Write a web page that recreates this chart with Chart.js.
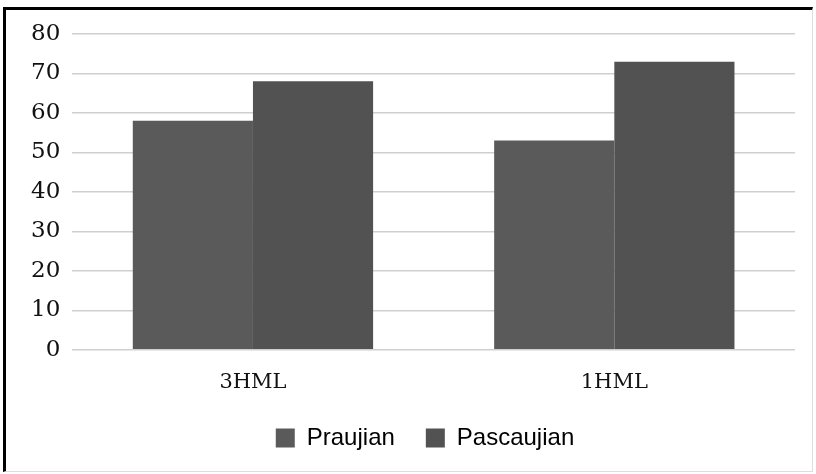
<!DOCTYPE html>
<html>
<head>
<meta charset="utf-8">
<script src="https://cdn.jsdelivr.net/npm/chart.js@4"></script>
<style>
html,body{margin:0;padding:0;background:#fff;}
#wrap{position:relative;width:816px;height:474px;}
canvas{position:absolute;left:0;top:0;}
#frame{position:absolute;left:3px;top:7px;width:806px;height:461px;border-left:3px solid #000;border-top:3px solid #000;border-right:1px solid #ddd;border-bottom:1px solid #ddd;pointer-events:none;}
</style>
</head>
<body>
<div id="wrap"><canvas id="c" width="816" height="474"></canvas><div id="frame"></div></div>
<script>
const categories = ["3HML", "1HML"];
const praujian = [58, 53];
const pascaujian = [68, 73];
const yTicks = [0, 10, 20, 30, 40, 50, 60, 70, 80];

const legendShift = {
  id: 'legendShift',
  afterLayout(chart) {
    if (chart.legend) { chart.legend.left += 18; chart.legend.right += 18; }
  }
};

new Chart(document.getElementById('c'), {
  type: 'bar',
  data: {
    labels: categories,
    datasets: [
      {label: 'Praujian', data: praujian, backgroundColor: '#5a5a5a', borderWidth: 0},
      {label: 'Pascaujian', data: pascaujian, backgroundColor: '#525252', borderWidth: 0}
    ]
  },
  plugins: [legendShift],
  options: {
    responsive: false,
    animation: false,
    devicePixelRatio: 1,
    layout: {padding: {left: 19, right: 21, top: 34, bottom: 14}},
    datasets: {bar: {categoryPercentage: 0.665, barPercentage: 1.0}},
    scales: {
      x: {
        grid: {display: false, drawTicks: false},
        border: {display: false},
        afterFit: (s) => { s.height -= 20; },
        ticks: {color: '#111', padding: 20, font: {family: "'DejaVu Serif'", size: 21}}
      },
      y: {
        min: 0, max: 80,
        afterBuildTicks: (s) => { s.ticks = yTicks.map(v => ({value: v})); },
        grid: {color: '#cfcfcf', lineWidth: 1.5, drawTicks: false},
        border: {display: false},
        ticks: {color: '#111', padding: 12, font: {family: "'DejaVu Serif'", size: 23}}
      }
    },
    plugins: {
      legend: {
        position: 'bottom',
        labels: {boxWidth: 19, boxHeight: 19, color: '#000', padding: 31, font: {family: "'Liberation Sans'", size: 24}}
      },
      tooltip: {enabled: false}
    }
  }
});
</script>
</body>
</html>
